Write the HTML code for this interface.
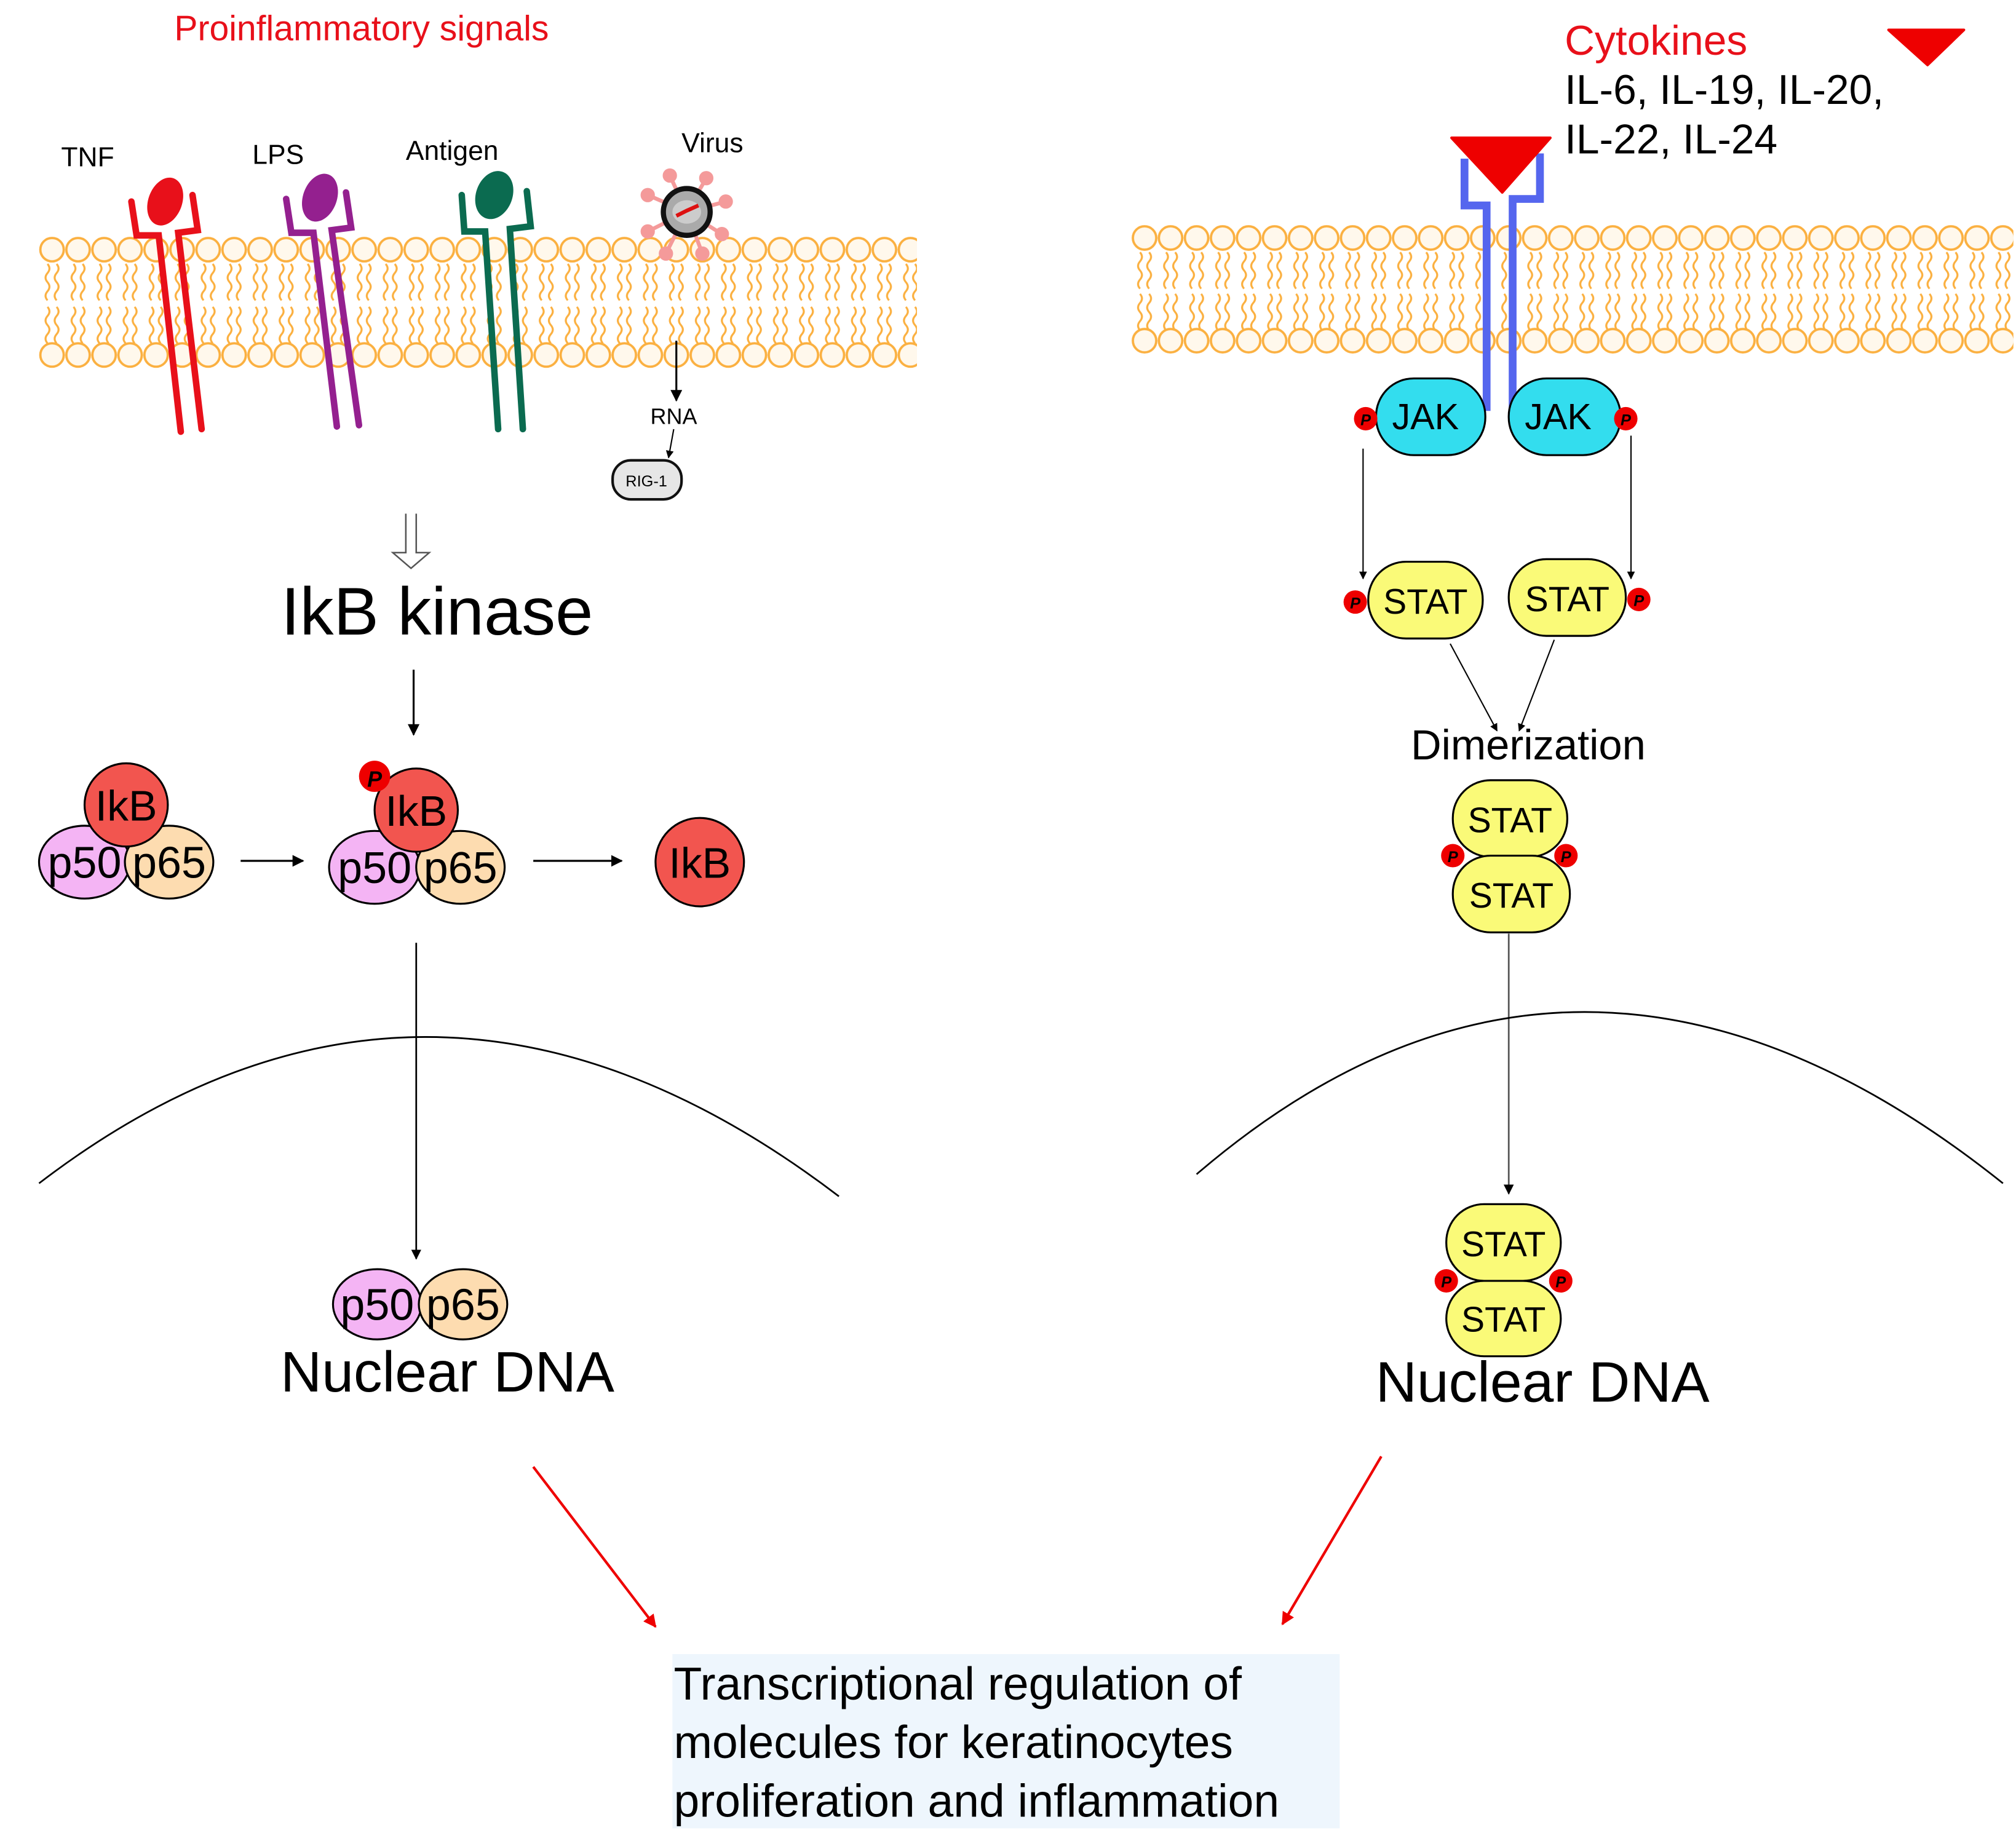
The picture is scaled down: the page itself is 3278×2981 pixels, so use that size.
<!DOCTYPE html>
<html><head><meta charset="utf-8"><style>html,body{margin:0;padding:0;background:#fff}svg{display:block}text{font-family:"Liberation Sans",sans-serif}</style></head>
<body>
<svg width="3278" height="2981" viewBox="0 0 1550 1409.6" xmlns="http://www.w3.org/2000/svg">
<defs>
<pattern id="lipL" x="30" y="182" width="20" height="102" patternUnits="userSpaceOnUse">
<circle cx="10" cy="10" r="9" fill="#fff8ec" stroke="#fbb040" stroke-width="1.8"/>
<path d="M6.5 21q3 3.5 0 7q-3 3.5 0 7q3 3.5 0 7q-3 3.5 0 7M13.5 21q3 3.5 0 7q-3 3.5 0 7q3 3.5 0 7q-3 3.5 0 7M6.5 54q3 3.5 0 7q-3 3.5 0 7q3 3.5 0 7q-3 3.5 0 7M13.5 54q3 3.5 0 7q-3 3.5 0 7q3 3.5 0 7q-3 3.5 0 7" fill="none" stroke="#fbb040" stroke-width="1.5"/>
<circle cx="10" cy="91" r="9" fill="#fff8ec" stroke="#fbb040" stroke-width="1.8"/>
</pattern>
<pattern id="lipR" x="870" y="173" width="20" height="100" patternUnits="userSpaceOnUse">
<circle cx="10" cy="10" r="9" fill="#fff8ec" stroke="#fbb040" stroke-width="1.8"/>
<path d="M6.5 21q3 3.5 0 7q-3 3.5 0 7q3 3.5 0 7q-3 3.5 0 7M13.5 21q3 3.5 0 7q-3 3.5 0 7q3 3.5 0 7q-3 3.5 0 7M6.5 53q3 3.5 0 7q-3 3.5 0 7q3 3.5 0 7q-3 3.5 0 7M13.5 53q3 3.5 0 7q-3 3.5 0 7q3 3.5 0 7q-3 3.5 0 7" fill="none" stroke="#fbb040" stroke-width="1.5"/>
<circle cx="10" cy="89" r="9" fill="#fff8ec" stroke="#fbb040" stroke-width="1.8"/>
</pattern>
<marker id="ah" viewBox="0 0 10 10" refX="9" refY="5" markerWidth="6" markerHeight="6" orient="auto"><path d="M0 0L10 5L0 10z" fill="#000"/></marker>
<marker id="ahr" viewBox="0 0 10 10" refX="9" refY="5" markerWidth="5" markerHeight="5" orient="auto"><path d="M0 0L10 5L0 10z" fill="#e00"/></marker>
</defs>

<rect x="30" y="182" width="675" height="102" fill="url(#lipL)"/>
<rect x="870" y="173" width="678" height="100" fill="url(#lipR)"/>

<!-- LEFT -->
<text x="278" y="31" font-size="27" fill="#e8101a" text-anchor="middle">Proinflammatory signals</text>
<text x="47" y="128" font-size="21">TNF</text>
<text x="194" y="126" font-size="21">LPS</text>
<text x="312" y="123" font-size="21">Antigen</text>
<text x="524" y="117" font-size="21">Virus</text>

<g fill="none" stroke-width="5" stroke-linejoin="miter" stroke-linecap="round">
<g stroke="#e8101a"><path d="M101 155L105 181L122 181L139 332"/><path d="M148 150L152 177L137 179L155 330"/></g>
<ellipse cx="127" cy="155" rx="13" ry="19" transform="rotate(20 127 155)" fill="#e8101a"/>
<g stroke="#94208f"><path d="M220 153L224 179L241 179L259 328"/><path d="M266 148L270 175L255 177L276 327"/></g>
<ellipse cx="246" cy="152" rx="13" ry="19" transform="rotate(20 246 152)" fill="#94208f"/>
<g stroke="#0b6b50"><path d="M355 150L357 178L373 178L383 330"/><path d="M405 147L408 174L392 176L402 330"/></g>
<ellipse cx="380" cy="150" rx="14" ry="19" transform="rotate(20 380 150)" fill="#0b6b50"/>
</g>
<g stroke="#f49a9a" stroke-width="3" fill="#f49a9a">
<line x1="528" y1="163" x2="515" y2="135"/><line x1="528" y1="163" x2="543" y2="137"/><line x1="528" y1="163" x2="558" y2="155"/><line x1="528" y1="163" x2="555" y2="180"/><line x1="528" y1="163" x2="540" y2="195"/><line x1="528" y1="163" x2="512" y2="195"/><line x1="528" y1="163" x2="498" y2="178"/><line x1="528" y1="163" x2="498" y2="150"/>
<circle cx="515" cy="135" r="4"/><circle cx="543" cy="137" r="4"/><circle cx="558" cy="155" r="4"/><circle cx="555" cy="180" r="4"/><circle cx="540" cy="195" r="4"/><circle cx="512" cy="195" r="4"/><circle cx="498" cy="178" r="4"/><circle cx="498" cy="150" r="4"/>
</g>
<circle cx="528" cy="163" r="18" fill="#aaa" stroke="#111" stroke-width="4"/>
<ellipse cx="528" cy="163" rx="11" ry="9" fill="#ccc"/>
<path d="M520 166L528 162L537 158" stroke="#d11" stroke-width="3" fill="none"/>
<line x1="520" y1="262" x2="520" y2="308" stroke="#000" stroke-width="1.5" marker-end="url(#ah)"/>
<text x="518" y="326" font-size="17" text-anchor="middle">RNA</text>
<line x1="518" y1="330" x2="514" y2="352" stroke="#000" stroke-width="1" marker-end="url(#ah)"/>
<rect x="471" y="354" width="53" height="30" rx="14" fill="#e6e6e6" stroke="#111" stroke-width="2"/>
<text x="497" y="374" font-size="12" text-anchor="middle">RIG-1</text>

<path d="M312 395V425H302L316 437L330 425H320V395" fill="none" stroke="#555" stroke-width="1.2"/>
<text x="336" y="488" font-size="52" text-anchor="middle">IkB kinase</text>
<line x1="318" y1="515" x2="318" y2="565" stroke="#000" stroke-width="1.5" marker-end="url(#ah)"/>

<g stroke="#000" stroke-width="1.5">
<ellipse cx="65" cy="663" rx="35" ry="28" fill="#f4b4f4"/>
<ellipse cx="130" cy="663" rx="34" ry="28" fill="#fddcb0"/>
<circle cx="97" cy="619" r="32" fill="#f2554f"/>
</g>
<text x="65" y="675" font-size="34" text-anchor="middle">p50</text>
<text x="130" y="675" font-size="34" text-anchor="middle">p65</text>
<text x="97" y="631" font-size="33" text-anchor="middle">IkB</text>
<line x1="185" y1="662" x2="233" y2="662" stroke="#000" stroke-width="1.5" marker-end="url(#ah)"/>
<g stroke="#000" stroke-width="1.5">
<ellipse cx="288" cy="667" rx="35" ry="28" fill="#f4b4f4"/>
<ellipse cx="354" cy="667" rx="34" ry="28" fill="#fddcb0"/>
<circle cx="320" cy="623" r="32" fill="#f2554f"/>
</g>
<circle cx="288" cy="597" r="12" fill="#e00"/><text x="288" y="605" font-size="17" font-weight="bold" font-style="italic" text-anchor="middle">P</text>
<text x="288" y="679" font-size="34" text-anchor="middle">p50</text>
<text x="354" y="679" font-size="34" text-anchor="middle">p65</text>
<text x="320" y="635" font-size="33" text-anchor="middle">IkB</text>
<line x1="410" y1="662" x2="478" y2="662" stroke="#000" stroke-width="1.5" marker-end="url(#ah)"/>
<circle cx="538" cy="663" r="34" fill="#f2554f" stroke="#000" stroke-width="1.5"/>
<text x="538" y="675" font-size="33" text-anchor="middle">IkB</text>

<line x1="320" y1="725" x2="320" y2="968" stroke="#000" stroke-width="1.3" marker-end="url(#ah)"/>
<path d="M30 910Q330 680 645 920" fill="none" stroke="#000" stroke-width="1.3"/>
<g stroke="#000" stroke-width="1.5">
<ellipse cx="290" cy="1003" rx="34" ry="27" fill="#f4b4f4"/>
<ellipse cx="356" cy="1003" rx="34" ry="27" fill="#fddcb0"/>
</g>
<text x="290" y="1015" font-size="34" text-anchor="middle">p50</text>
<text x="356" y="1015" font-size="34" text-anchor="middle">p65</text>
<text x="344" y="1070" font-size="44" text-anchor="middle">Nuclear DNA</text>

<line x1="410" y1="1128" x2="504" y2="1251" stroke="#e00" stroke-width="2" marker-end="url(#ahr)"/>
<line x1="1062" y1="1120" x2="986" y2="1249" stroke="#e00" stroke-width="2" marker-end="url(#ahr)"/>

<rect x="517" y="1272" width="513" height="134" fill="#eef6fd"/>
<text font-size="35.5"><tspan x="518" y="1307">Transcriptional regulation of</tspan><tspan x="518" y="1352">molecules for keratinocytes</tspan><tspan x="518" y="1397">proliferation and inflammation</tspan></text>

<!-- RIGHT -->
<text x="1203" y="42" font-size="32" fill="#e8101a">Cytokines</text>
<text x="1203" y="80" font-size="32">IL-6, IL-19, IL-20,</text>
<text x="1203" y="118" font-size="32">IL-22, IL-24</text>
<path d="M1452 23L1510 23L1482 50Z" fill="#e00" stroke="#e00" stroke-width="2" stroke-linejoin="round"/>
<g fill="none" stroke="#5566ee" stroke-width="6">
<path d="M1126 122V158H1143V316"/><path d="M1184 118V153H1163V316"/>
</g>
<path d="M1116 106L1192 106L1155 148Z" fill="#e00" stroke="#e00" stroke-width="2" stroke-linejoin="round"/>

<g stroke="#000" stroke-width="1.5" fill="#33ddee">
<rect x="1058" y="291" width="84" height="59" rx="29"/>
<rect x="1160" y="291" width="86" height="59" rx="29"/>
</g>
<text x="1096" y="330" font-size="28" text-anchor="middle">JAK</text>
<text x="1198" y="330" font-size="28" text-anchor="middle">JAK</text>
<line x1="1048" y1="345" x2="1048" y2="445" stroke="#000" stroke-width="1" marker-end="url(#ah)"/>
<line x1="1254" y1="335" x2="1254" y2="445" stroke="#000" stroke-width="1" marker-end="url(#ah)"/>

<g stroke="#000" stroke-width="1.5" fill="#fafa78">
<rect x="1052" y="432" width="88" height="59" rx="29"/>
<rect x="1160" y="430" width="90" height="59" rx="29"/>
</g>
<text x="1096" y="472" font-size="27" text-anchor="middle">STAT</text>
<text x="1205" y="470" font-size="27" text-anchor="middle">STAT</text>
<line x1="1115" y1="495" x2="1151" y2="562" stroke="#000" stroke-width="1" marker-end="url(#ah)"/>
<line x1="1195" y1="492" x2="1168" y2="562" stroke="#000" stroke-width="1" marker-end="url(#ah)"/>
<text x="1175" y="584" font-size="32.5" text-anchor="middle">Dimerization</text>

<g stroke="#000" stroke-width="1.5" fill="#fafa78">
<rect x="1117" y="600" width="88" height="59" rx="29"/>
<rect x="1117" y="658" width="90" height="59" rx="29"/>
</g>
<text x="1161" y="640" font-size="27" text-anchor="middle">STAT</text>
<text x="1162" y="698" font-size="27" text-anchor="middle">STAT</text>
<line x1="1160" y1="718" x2="1160" y2="918" stroke="#555" stroke-width="1.3" marker-end="url(#ah)"/>
<path d="M920 903Q1215 650 1540 910" fill="none" stroke="#000" stroke-width="1.3"/>
<g stroke="#000" stroke-width="1.5" fill="#fafa78">
<rect x="1112" y="926" width="88" height="59" rx="29"/>
<rect x="1112" y="985" width="88" height="58" rx="29"/>
</g>
<text x="1156" y="966" font-size="27" text-anchor="middle">STAT</text>
<text x="1156" y="1024" font-size="27" text-anchor="middle">STAT</text>
<text x="1186" y="1078" font-size="44" text-anchor="middle">Nuclear DNA</text>

<g font-size="12" font-weight="bold" font-style="italic" text-anchor="middle">
<circle cx="1050" cy="322" r="9" fill="#e00"/><text x="1050" y="327">P</text>
<circle cx="1250" cy="322" r="9" fill="#e00"/><text x="1250" y="327">P</text>
<circle cx="1042" cy="463" r="9" fill="#e00"/><text x="1042" y="468">P</text>
<circle cx="1260" cy="461" r="9" fill="#e00"/><text x="1260" y="466">P</text>
<circle cx="1117" cy="658" r="9" fill="#e00"/><text x="1117" y="663">P</text>
<circle cx="1204" cy="658" r="9" fill="#e00"/><text x="1204" y="663">P</text>
<circle cx="1112" cy="985" r="9" fill="#e00"/><text x="1112" y="990">P</text>
<circle cx="1200" cy="985" r="9" fill="#e00"/><text x="1200" y="990">P</text>
</g>
</svg>
</body></html>
